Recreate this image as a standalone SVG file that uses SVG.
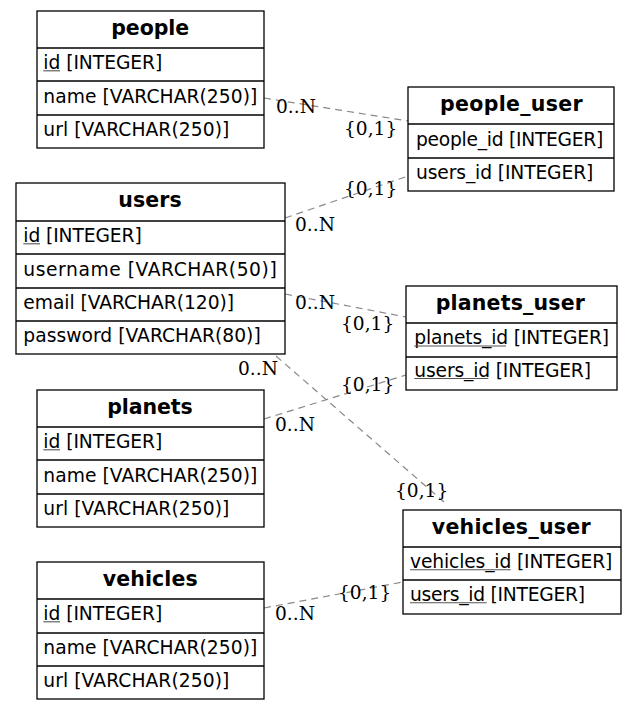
<svg xmlns="http://www.w3.org/2000/svg" width="636" height="709" viewBox="0 0 636 709">
<style>
.box{fill:#fff;stroke:#000;stroke-width:1.3}
.sep{stroke:#000;stroke-width:1.3}
.hdr{font-family:"DejaVu Sans",sans-serif;font-weight:bold;font-size:20.5px;text-anchor:middle;fill:#000}
.fld{font-family:"DejaVu Sans",sans-serif;font-size:18.7px;fill:#000}
.ul{stroke:#555;stroke-width:1.1}
.edge{stroke:#888;stroke-width:1.2;stroke-dasharray:7,5;fill:none}
.lbl{font-family:"DejaVu Serif",serif;font-size:18.6px;fill:#000}
</style>
<rect width="636" height="709" fill="#fff"/>
<g id="connectors">
<line class="edge" x1="264" y1="98" x2="408" y2="121"/>
<line class="edge" x1="285" y1="218" x2="408" y2="176"/>
<line class="edge" x1="285" y1="294" x2="406" y2="317"/>
<line class="edge" x1="276" y1="356" x2="444" y2="502"/>
<line class="edge" x1="264" y1="419" x2="406" y2="375"/>
<line class="edge" x1="264" y1="608" x2="403" y2="582"/>
<text class="lbl" x="276" y="113">0..N</text>
<text class="lbl" x="344" y="135">{0,1}</text>
<text class="lbl" x="344" y="195">{0,1}</text>
<text class="lbl" x="295" y="231">0..N</text>
<text class="lbl" x="295" y="309">0..N</text>
<text class="lbl" x="341" y="330">{0,1}</text>
<text class="lbl" x="238" y="375">0..N</text>
<text class="lbl" x="341" y="391">{0,1}</text>
<text class="lbl" x="275" y="431">0..N</text>
<text class="lbl" x="395" y="497">{0,1}</text>
<text class="lbl" x="338" y="599">{0,1}</text>
<text class="lbl" x="275" y="620">0..N</text>
</g>
<g id="people">
<rect class="box" x="37" y="11" width="227" height="137"/>
<line class="sep" x1="37" y1="48" x2="264" y2="48"/>
<line class="sep" x1="37" y1="81" x2="264" y2="81"/>
<line class="sep" x1="37" y1="115" x2="264" y2="115"/>
<text class="hdr" x="150.2" y="34.5" textLength="78" lengthAdjust="spacing">people</text>
<text class="fld" x="43.3" y="68.5" textLength="119" lengthAdjust="spacing">id [INTEGER]</text>
<line class="ul" x1="43.3" y1="70.8" x2="60" y2="70.8"/>
<text class="fld" x="43.3" y="102.5" textLength="214" lengthAdjust="spacing">name [VARCHAR(250)]</text>
<text class="fld" x="43.3" y="135.5" textLength="186" lengthAdjust="spacing">url [VARCHAR(250)]</text>
</g>
<g id="people_user">
<rect class="box" x="408" y="87" width="206" height="104"/>
<line class="sep" x1="408" y1="124" x2="614" y2="124"/>
<line class="sep" x1="408" y1="158" x2="614" y2="158"/>
<text class="hdr" x="511.3" y="110.5" textLength="142.7" lengthAdjust="spacing">people_user</text>
<text class="fld" x="416" y="145.5" textLength="187.3" lengthAdjust="spacing">people_id [INTEGER]</text>
<text class="fld" x="416" y="178.5" textLength="177.3" lengthAdjust="spacing">users_id [INTEGER]</text>
</g>
<g id="users">
<rect class="box" x="16" y="183" width="269" height="171"/>
<line class="sep" x1="16" y1="221" x2="285" y2="221"/>
<line class="sep" x1="16" y1="254" x2="285" y2="254"/>
<line class="sep" x1="16" y1="288" x2="285" y2="288"/>
<line class="sep" x1="16" y1="321" x2="285" y2="321"/>
<text class="hdr" x="150" y="206.5" textLength="63.4" lengthAdjust="spacing">users</text>
<text class="fld" x="23.3" y="241.5" textLength="118.4" lengthAdjust="spacing">id [INTEGER]</text>
<line class="ul" x1="23.3" y1="243.8" x2="40" y2="243.8"/>
<text class="fld" x="23.3" y="275.5" textLength="253.4" lengthAdjust="spacing">username [VARCHAR(50)]</text>
<text class="fld" x="23.3" y="308.5" textLength="210.7" lengthAdjust="spacing">email [VARCHAR(120)]</text>
<text class="fld" x="23.3" y="341.5" textLength="237.4" lengthAdjust="spacing">password [VARCHAR(80)]</text>
</g>
<g id="planets_user">
<rect class="box" x="406" y="286" width="211" height="104"/>
<line class="sep" x1="406" y1="323" x2="617" y2="323"/>
<line class="sep" x1="406" y1="357" x2="617" y2="357"/>
<text class="hdr" x="510.3" y="309.5" textLength="149.3" lengthAdjust="spacing">planets_user</text>
<text class="fld" x="414.3" y="344" textLength="194.7" lengthAdjust="spacing">planets_id [INTEGER]</text>
<line class="ul" x1="414.3" y1="346" x2="506" y2="346"/>
<text class="fld" x="414.3" y="376.5" textLength="176.7" lengthAdjust="spacing">users_id [INTEGER]</text>
<line class="ul" x1="414.3" y1="378.5" x2="488.3" y2="378.5"/>
</g>
<g id="planets">
<rect class="box" x="37" y="390" width="227" height="137"/>
<line class="sep" x1="37" y1="427" x2="264" y2="427"/>
<line class="sep" x1="37" y1="460" x2="264" y2="460"/>
<line class="sep" x1="37" y1="494" x2="264" y2="494"/>
<text class="hdr" x="150" y="413.5" textLength="85.4" lengthAdjust="spacing">planets</text>
<text class="fld" x="43.3" y="447.5" textLength="119" lengthAdjust="spacing">id [INTEGER]</text>
<line class="ul" x1="43.3" y1="449.8" x2="60" y2="449.8"/>
<text class="fld" x="43.3" y="481.5" textLength="214" lengthAdjust="spacing">name [VARCHAR(250)]</text>
<text class="fld" x="43.3" y="514.5" textLength="186" lengthAdjust="spacing">url [VARCHAR(250)]</text>
</g>
<g id="vehicles_user">
<rect class="box" x="403" y="510" width="218" height="104"/>
<line class="sep" x1="403" y1="547" x2="621" y2="547"/>
<line class="sep" x1="403" y1="580" x2="621" y2="580"/>
<text class="hdr" x="511.2" y="533.5" textLength="159" lengthAdjust="spacing">vehicles_user</text>
<text class="fld" x="410" y="567.5" textLength="202.3" lengthAdjust="spacing">vehicles_id [INTEGER]</text>
<line class="ul" x1="410" y1="569.8" x2="510.7" y2="569.8"/>
<text class="fld" x="410" y="600.5" textLength="175" lengthAdjust="spacing">users_id [INTEGER]</text>
<line class="ul" x1="410" y1="602.8" x2="486.7" y2="602.8"/>
</g>
<g id="vehicles">
<rect class="box" x="37" y="562" width="227" height="137"/>
<line class="sep" x1="37" y1="599" x2="264" y2="599"/>
<line class="sep" x1="37" y1="633" x2="264" y2="633"/>
<line class="sep" x1="37" y1="666" x2="264" y2="666"/>
<text class="hdr" x="150.2" y="585.5" textLength="95" lengthAdjust="spacing">vehicles</text>
<text class="fld" x="43.3" y="619.5" textLength="119" lengthAdjust="spacing">id [INTEGER]</text>
<line class="ul" x1="43.3" y1="621.8" x2="60" y2="621.8"/>
<text class="fld" x="43.3" y="653.5" textLength="214" lengthAdjust="spacing">name [VARCHAR(250)]</text>
<text class="fld" x="43.3" y="686.5" textLength="186" lengthAdjust="spacing">url [VARCHAR(250)]</text>
</g>
</svg>
